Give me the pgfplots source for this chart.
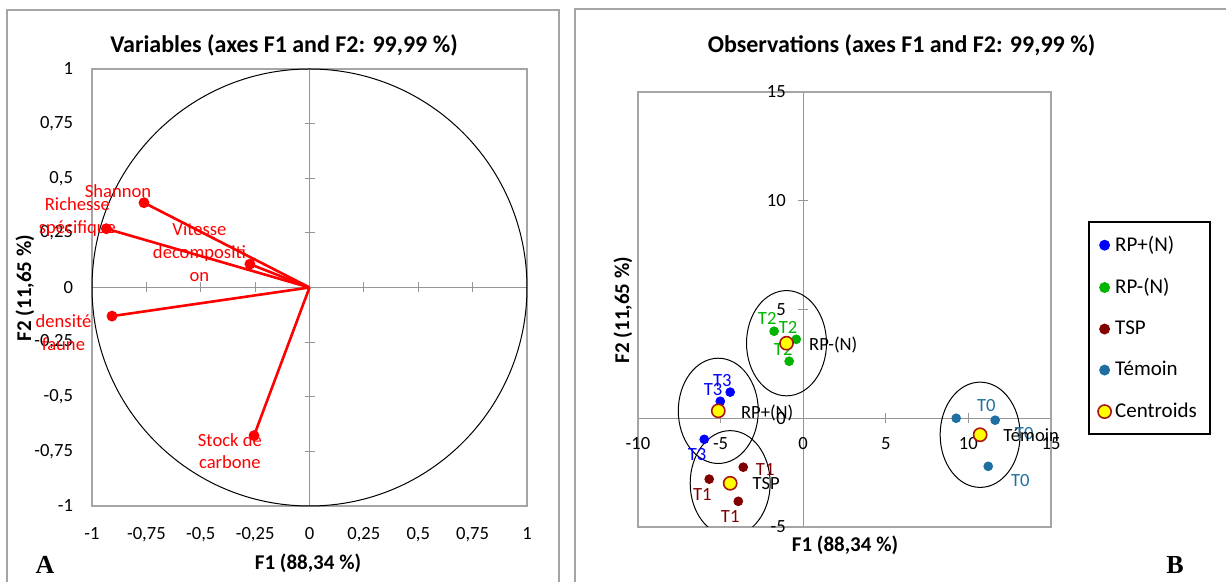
\documentclass[border=0pt]{standalone}
\usepackage{pgfplots}
\pgfplotsset{compat=1.18}
\usepackage{fontspec}
\setmainfont{Carlito}
\newfontfamily\timesfont{Liberation Serif}
\definecolor{framegray}{RGB}{165,165,165}
\definecolor{axgray}{RGB}{150,150,150}
\definecolor{cblue}{RGB}{0,0,255}
\definecolor{cgreen}{RGB}{0,180,0}
\definecolor{cdred}{RGB}{128,0,0}
\definecolor{cteal}{RGB}{31,112,160}
\definecolor{cyel}{RGB}{255,255,0}
\definecolor{cborder}{RGB}{170,20,20}
\definecolor{cred}{RGB}{255,0,0}
\newcommand{\tk}{\fontsize{9.3}{11.3}\selectfont}
\newcommand{\ttl}{\fontsize{12}{14}\selectfont\bfseries}
\newcommand{\lab}{\fontsize{10.5}{12}\selectfont\bfseries}
\begin{document}
\begin{tikzpicture}[x=1pt,y=1pt]
\useasboundingbox (0pt,0pt) rectangle (613pt,291pt);
% panel frames
\draw[framegray, line width=0.8pt] (3.5pt,-3pt) -- (3.5pt,286pt) -- (279.5pt,286pt) -- (279.5pt,-3pt);
\draw[framegray, line width=0.8pt] (287.5pt,-3pt) -- (287.5pt,286.5pt) -- (616pt,286.5pt);
% ---------- LEFT PANEL ----------
\begin{axis}[at={(46pt,38pt)}, anchor=south west, scale only axis,
  width=217.5pt, height=218.5pt,
  xmin=-1, xmax=1, ymin=-1, ymax=1,
  axis line style={framegray, line width=0.8pt},
  xtick={-1,-0.75,-0.5,-0.25,0,0.25,0.5,0.75,1},
  xticklabels={-1,{-0,75},{-0,5},{-0,25},0,{0,25},{0,5},{0,75},1},
  ytick={-1,-0.75,-0.5,-0.25,0,0.25,0.5,0.75,1},
  yticklabels={-1,{-0,75},{-0,5},{-0,25},0,{0,25},{0,5},{0,75},1},
  major tick length=0pt,
  tick label style={font=\tk, black},
  xticklabel style={yshift=-7pt},
  yticklabel style={xshift=-6pt},
]
\end{axis}
\begin{axis}[at={(46pt,38pt)}, anchor=south west, scale only axis,
  width=217.5pt, height=218.5pt,
  xmin=-1, xmax=1, ymin=-1, ymax=1,
  axis lines=middle, axis line style={axgray, -, line width=0.7pt},
  xtick={-0.75,-0.5,-0.25,0.25,0.5,0.75},
  ytick={-0.75,-0.5,-0.25,0.25,0.5,0.75},
  xticklabels={}, yticklabels={},
  tick align=center, major tick length=5pt, tick style={axgray, line width=0.6pt},
  clip=false,
]
\draw[black, line width=0.5pt] (axis cs:0,0) circle [radius=1];
\addplot[cred, line width=1.3pt] coordinates {(0,0) (-0.761,0.388)};
\addplot[cred, line width=1.3pt] coordinates {(0,0) (-0.934,0.269)};
\addplot[cred, line width=1.3pt] coordinates {(0,0) (-0.274,0.107)};
\addplot[cred, line width=1.3pt] coordinates {(0,0) (-0.908,-0.131)};
\addplot[cred, line width=1.3pt] coordinates {(0,0) (-0.255,-0.678)};
\addplot[only marks, mark=*, mark size=2.5pt, cred] coordinates {
  (-0.761,0.388) (-0.934,0.269) (-0.274,0.107) (-0.908,-0.131) (-0.255,-0.678)};
\node[cred, font=\tk, align=center] at (axis cs:-0.880,0.443) {Shannon};
\node[cred, font=\tk, align=center] at (axis cs:-1.067,0.323) {Richesse\\spécifique};
\node[cred, font=\tk, align=center] at (axis cs:-0.506,0.162) {Vitesse\\decompositi\\on};
\node[cred, font=\tk, align=center] at (axis cs:-1.131,-0.206) {densité\\faune};
\node[cred, font=\tk, align=center] at (axis cs:-0.366,-0.748) {Stock de\\carbone};
\end{axis}
\node[font=\ttl] at (142pt,268.5pt) {Variables (axes F1 and F2: 99,99 \%)};
\node[font=\lab] at (154pt,9.5pt) {F1 (88,34 \%)};
\node[font=\lab, rotate=90] at (12.5pt,147pt) {F2 (11,65 \%)};
\node[font=\timesfont\fontsize{13}{15}\selectfont\bfseries] at (22.5pt,8.5pt) {A};
% ---------- RIGHT PANEL ----------
\begin{axis}[at={(319pt,27.5pt)}, anchor=south west, scale only axis,
  width=206.5pt, height=217.5pt,
  xmin=-10, xmax=15, ymin=-5, ymax=15,
  axis lines=middle, axis line style={axgray, -, line width=0.7pt},
  xtick={-10,-5,0,5,10,15}, xticklabels={},
  ytick={-5,0,5,10,15}, yticklabels={},
  hide obscured x ticks=false, hide obscured y ticks=false,
  tick align=center, major tick length=5pt, tick style={axgray, line width=0.6pt},
  clip=false,
  legend style={at={(1.0896,0.7034)}, anchor=north west, draw=black, line width=1pt,
    inner xsep=4.5pt, inner ysep=5pt, row sep=8pt, font=\fontsize{10.5}{12}\selectfont,
    nodes={line width=0.4pt}},
  legend cell align=left,
  legend image code/.code={\draw[mark repeat=2,mark phase=2,#1] plot coordinates {(0pt,0pt)(5pt,0pt)(10pt,0pt)};},
]
\draw[framegray, line width=0.8pt] (rel axis cs:0,0) rectangle (rel axis cs:1,1);
% tick labels beside the zero lines
\pgfplotsinvokeforeach{-10,-5,0,5,10,15}{\node[font=\tk, black] at ([yshift=-12.5pt]axis cs:#1,0) {#1};}
\pgfplotsinvokeforeach{-5,0,5,10,15}{\node[font=\tk, black, anchor=east, inner sep=0pt] at ([xshift=-8.5pt]axis cs:0,#1) {#1};}
\begin{scope}
\clip (rel axis cs:0,0) rectangle (rel axis cs:1,1);
\draw[black, line width=0.5pt] (axis cs:-5.14,0.34) ellipse [x radius=2.42, y radius=2.42];
\draw[black, line width=0.5pt] (axis cs:-1.01,3.45) ellipse [x radius=2.42, y radius=2.42];
\draw[black, line width=0.5pt] (axis cs:-4.42,-2.99) ellipse [x radius=2.42, y radius=2.42];
\draw[black, line width=0.5pt] (axis cs:10.71,-0.76) ellipse [x radius=2.42, y radius=2.42];
\end{scope}
\addplot[only marks, mark=*, mark size=2.2pt, color=cblue] coordinates {(-4.42,1.20) (-5.02,0.78) (-5.99,-0.97)};
\addlegendentry{RP+(N)}
\addplot[only marks, mark=*, mark size=2.2pt, color=cgreen] coordinates {(-1.76,4.00) (-0.42,3.63) (-0.85,2.62)};
\addlegendentry{RP-(N)}
\addplot[only marks, mark=*, mark size=2.2pt, color=cdred] coordinates {(-3.63,-2.25) (-5.69,-2.80) (-3.93,-3.82)};
\addlegendentry{TSP}
\addplot[only marks, mark=*, mark size=2.2pt, color=cteal] coordinates {(9.26,0.00) (11.62,-0.09) (11.20,-2.21)};
\addlegendentry{Témoin}
\addplot[only marks, mark=*, mark size=3.3pt, mark options={draw=cborder, fill=cyel, line width=0.8pt}] coordinates {(-5.14,0.34) (-1.01,3.45) (-4.42,-2.99) (10.71,-0.76)};
\addlegendentry{Centroids}
\node[cblue, font=\tk] at (axis cs:-4.90,1.75) {T3};
\node[cblue, font=\tk] at (axis cs:-5.45,1.33) {T3};
\node[cblue, font=\tk] at (axis cs:-6.42,-1.66) {T3};
\node[cgreen, font=\tk] at (axis cs:-2.18,4.60) {T2};
\node[cgreen, font=\tk] at (axis cs:-0.91,4.18) {T2};
\node[cgreen, font=\tk] at (axis cs:-1.21,3.17) {T2};
\node[cdred, font=\tk] at (axis cs:-2.30,-2.34) {T1};
\node[cdred, font=\tk] at (axis cs:-6.11,-3.49) {T1};
\node[cdred, font=\tk] at (axis cs:-4.42,-4.51) {T1};
\node[cteal, font=\tk] at (axis cs:11.08,0.60) {T0};
\node[cteal, font=\tk] at (axis cs:13.38,-0.69) {T0};
\node[cteal, font=\tk] at (axis cs:13.14,-2.85) {T0};
\node[black, font=\tk] at (axis cs:1.82,3.36) {RP-(N)};
\node[black, font=\tk] at (axis cs:-2.18,0.23) {RP+(N)};
\node[black, font=\tk] at (axis cs:-2.24,-2.99) {TSP};
\node[black, font=\tk] at (axis cs:13.8,-0.78) {Témoin};
\end{axis}
\node[font=\ttl] at (450.75pt,268.5pt) {Observations (axes F1 and F2: 99,99 \%)};
\node[font=\lab] at (422.5pt,18.5pt) {F1 (88,34 \%)};
\node[font=\lab, rotate=90] at (311.5pt,136pt) {F2 (11,65 \%)};
\node[font=\timesfont\fontsize{13}{15}\selectfont\bfseries] at (587.5pt,8.5pt) {B};
\end{tikzpicture}
\end{document}
